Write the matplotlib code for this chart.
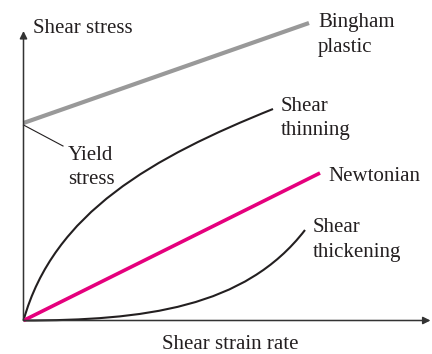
from matplotlib import pyplot as plt
from matplotlib.path import Path
from matplotlib.patches import PathPatch

# flow curves, strain rate vs stress (arbitrary units, origin at 0,0)
# curved ones are cubic Bezier control points: start, ctrl, ctrl, end
thin_ctrl = [(0, 0), (30, 108), (130, 163.5), (249.5, 211.5)]
thick_ctrl = [(0, 0), (120, 0), (221.5, 12.5), (281.5, 90.5)]

newton_x = [0, 296.5]
newton_y = [0, 147.5]

bingham_x = [0, 285.5]
bingham_y = [197.5, 297.5]

yield_leader_x = [0, 39.5]
yield_leader_y = [195.5, 174.5]

labels = [
    (294.5, [293.5, 268.5], ['Bingham', 'plastic']),
    (257.5, [209.5, 185.5], ['Shear', 'thinning']),
    (304.5, [139.5], ['Newtonian']),
    (289.5, [88.5, 63.5], ['Shear', 'thickening']),
    (44.5, [160.5, 136.5], ['Yield', 'stress']),
]

plt.rcParams['font.family'] = 'Liberation Serif'
ink = '#231f20'

fig = plt.figure(figsize=(4.32, 3.54), dpi=100)
ax = fig.add_axes([0, 0, 1, 1])
ax.set_xlim(-23.5, 408.5)
ax.set_ylim(-33.5, 320.5)
ax.axis('off')

# axes with arrow heads
arrow = dict(arrowstyle='-|>', lw=1.1, color='#333333', mutation_scale=11,
             shrinkA=0, shrinkB=0)
ax.annotate('', xy=(0, 289.5), xytext=(0, 0), arrowprops=arrow)
ax.annotate('', xy=(407, 0), xytext=(0, 0), arrowprops=arrow)

ax.plot(bingham_x, bingham_y, color='#999999', lw=3, solid_capstyle='butt')
ax.plot(yield_leader_x, yield_leader_y, color=ink, lw=0.8)

codes = [Path.MOVETO, Path.CURVE4, Path.CURVE4, Path.CURVE4]
for ctrl in (thin_ctrl, thick_ctrl):
    ax.add_patch(PathPatch(Path(ctrl, codes), facecolor='none',
                           edgecolor=ink, lw=1.5))

ax.plot(newton_x, newton_y, color='#e5007d', lw=2.6, solid_capstyle='butt')

for x, ys, lines in labels:
    for y, s in zip(ys, lines):
        ax.text(x, y, s, fontsize=15, color=ink, ha='left', va='baseline')

ax.text(9.5, 287.5, 'Shear stress', fontsize=15, color=ink,
        ha='left', va='baseline')
ax.text(138.5, -28.5, 'Shear strain rate', fontsize=15, color=ink,
        ha='left', va='baseline')

plt.savefig('out.png')
plt.close()
